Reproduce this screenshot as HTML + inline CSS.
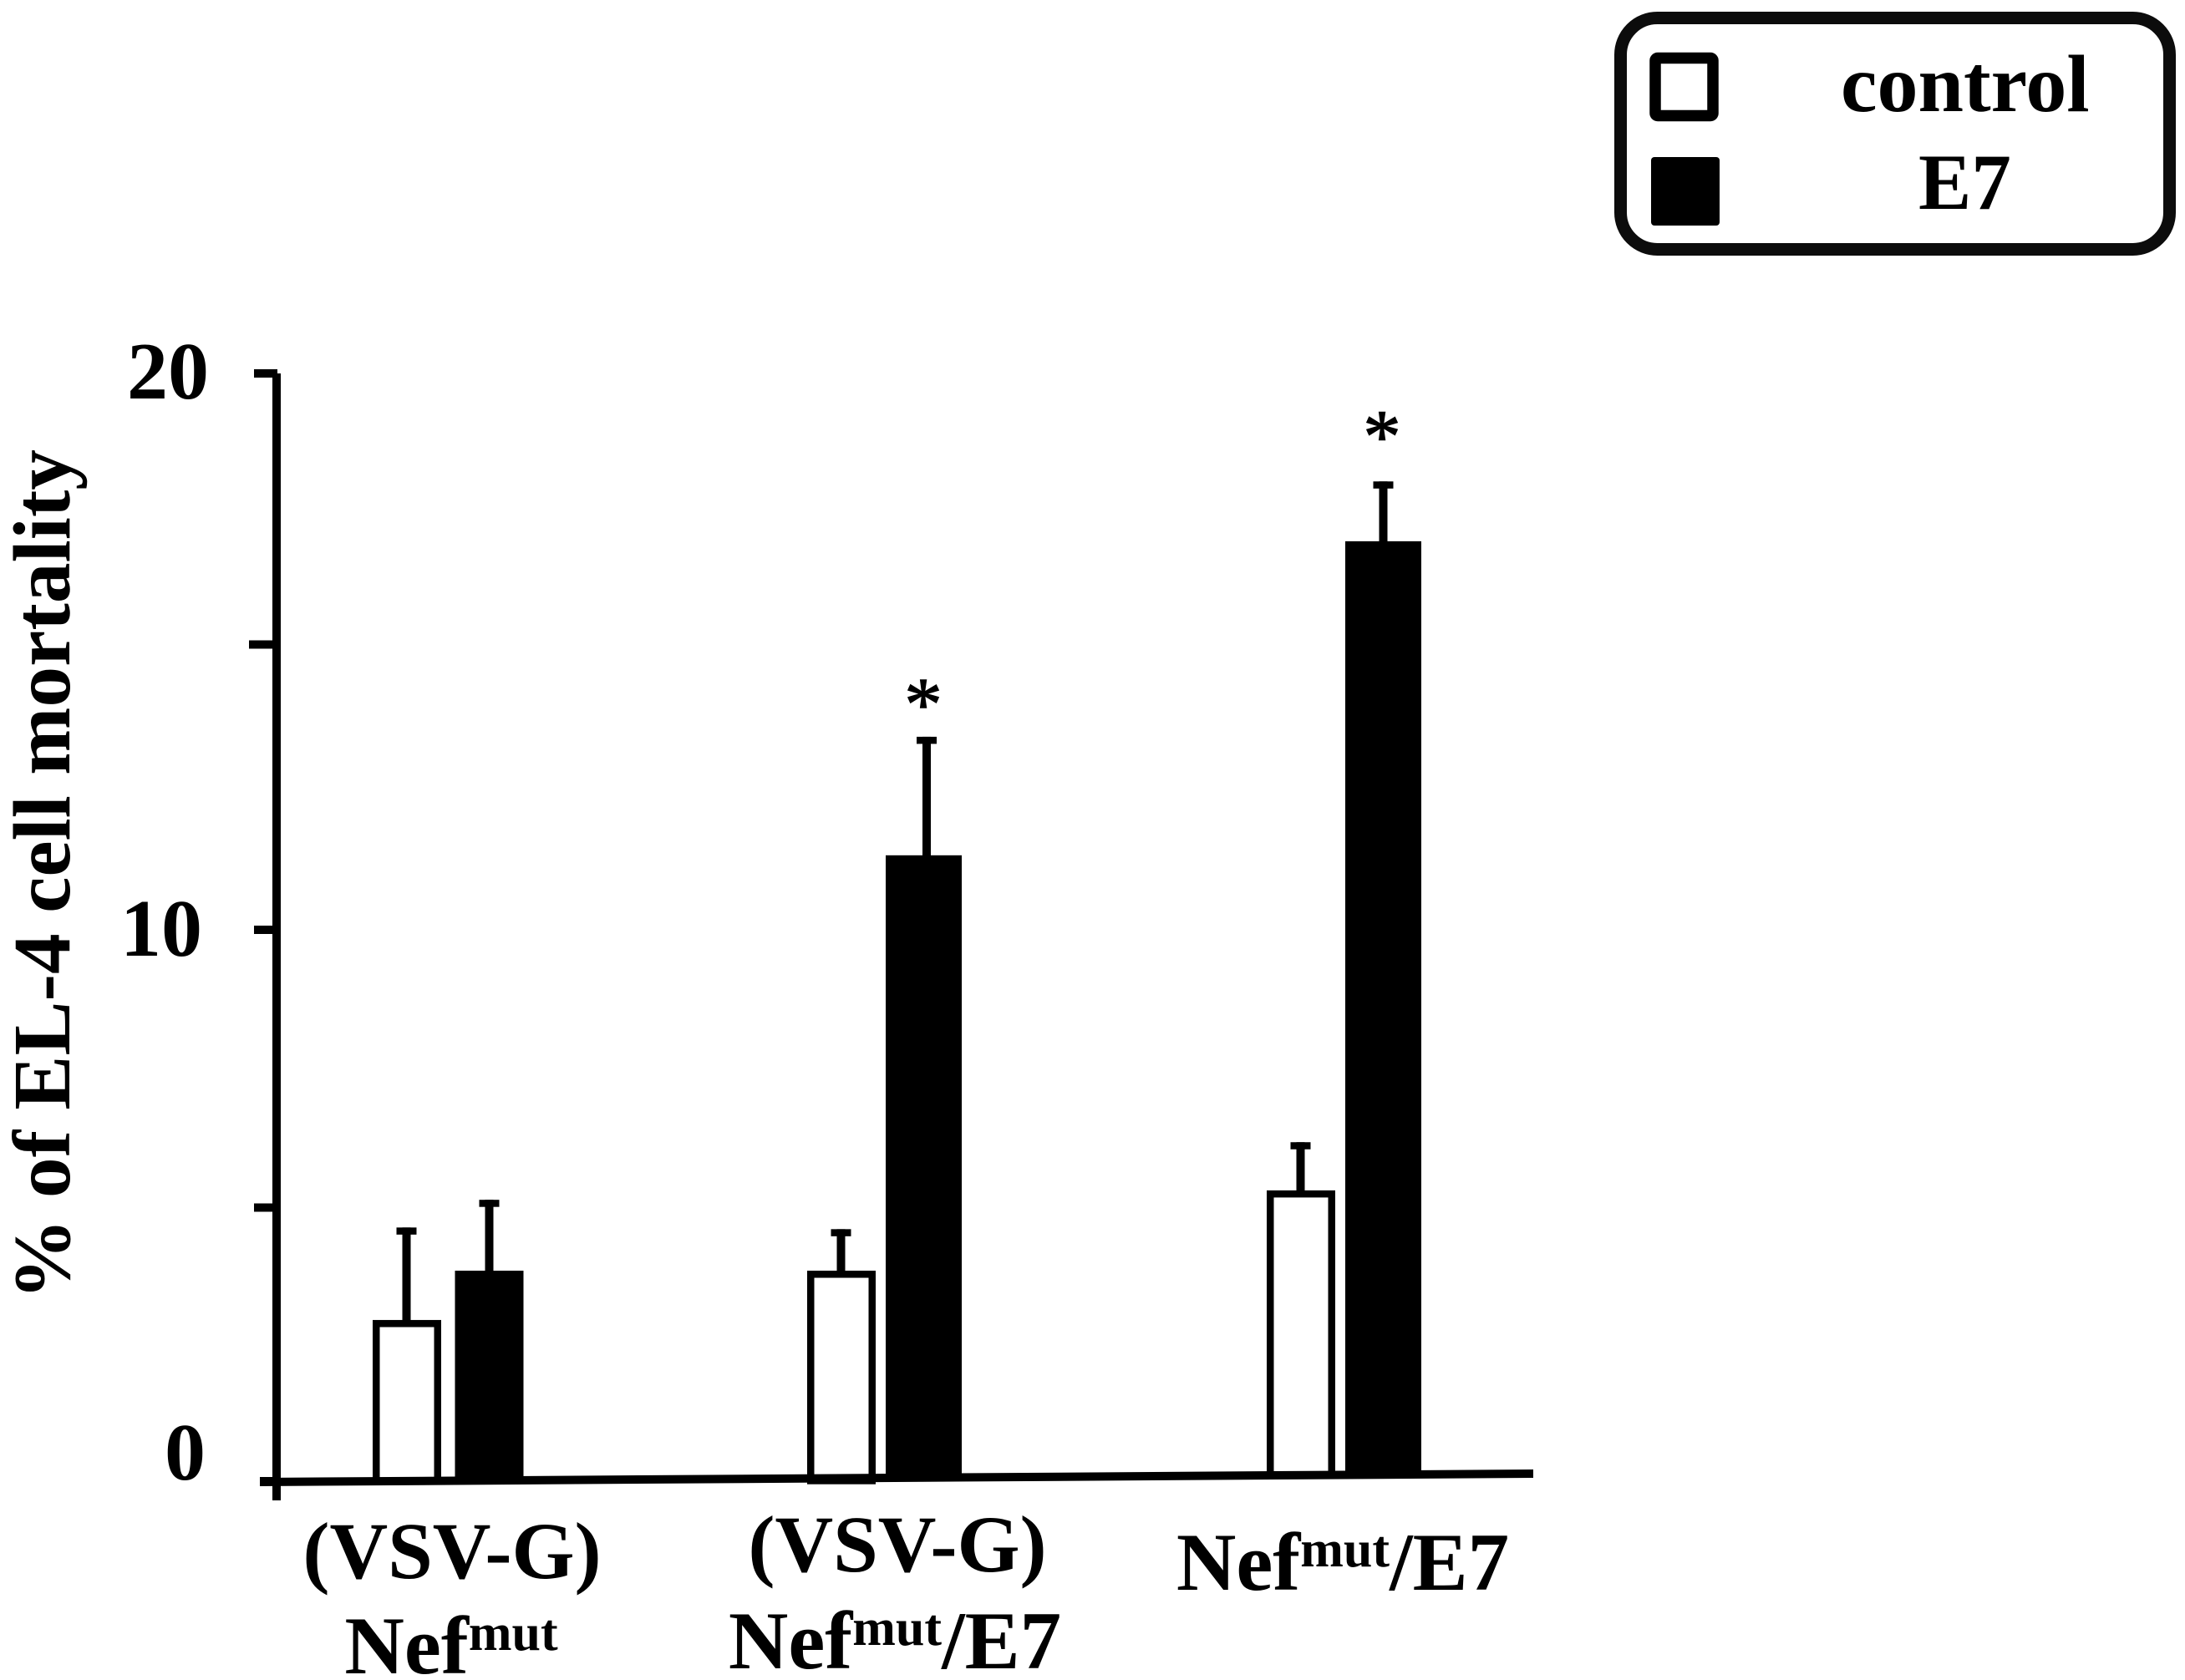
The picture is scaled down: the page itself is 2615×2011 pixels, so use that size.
<!DOCTYPE html>
<html lang="en">
<head>
<meta charset="utf-8">
<title>EL-4 cell mortality</title>
<style>
html,body{margin:0;padding:0;background:#fff;}
svg{display:block;}
text{font-family:"Liberation Serif","Times New Roman",serif;font-weight:bold;fill:#000;}
</style>
</head>
<body>
<svg id="chart" xmlns="http://www.w3.org/2000/svg" width="2615" height="2011" viewBox="0 0 2615 2011">
  <rect x="0" y="0" width="2615" height="2011" fill="#fff"/>
  <g>
    <rect x="1939.5" y="21.5" width="657" height="277" rx="44" ry="44" fill="#fff" stroke="#0c0c0c" stroke-width="15"/>
    <rect x="1981" y="69.5" width="69" height="69" rx="3" fill="#fff" stroke="#000" stroke-width="13.5"/>
    <text x="2203" y="133" font-size="98">control</text>
    <rect x="1976" y="188" width="82" height="82" rx="4" fill="#000"/>
    <text x="2296" y="250" font-size="95">E7</text>
  </g>
  <text transform="translate(83,1047) rotate(-90)" text-anchor="middle" font-size="97.5">% of EL-4 cell mortality</text>
  <g id="marks"></g>
</svg>
<script>
const categoryLine1 = ["(VSV-G)", "(VSV-G)", ""];
const categoryBase = ["Nef", "Nef", "Nef"];
const categorySup = ["mut", "mut", "mut"];
const categorySuffix = ["", "/E7", "/E7"];
const controlValues = [2.91, 3.80, 5.25];
const e7Values = [3.80, 11.30, 16.97];
const controlErrors = [1.67, 0.75, 0.87];
const e7Errors = [1.28, 2.14, 1.08];
const significant = [false, true, true];
const tickValues = [0, 5, 10, 15, 20];
const tickLabels = ["0", "", "10", "", "20"];

const NS = "http://www.w3.org/2000/svg";
const marks = document.getElementById("marks");

function yScale(v) { return 1773 - 66.3 * v; }
function groupCenter(i) { return i === 0 ? 536 : i === 1 ? 1056 : 1606; }
function baselineY(x) { return 1774 - (x - 311) * 10 / 1524; }
function tickNudge(v) { return v === 5 ? 4 : v === 10 ? 3 : v === 15 ? -7 : 0; }
function tickLeft(v) { return v === 15 ? 298 : v === 0 ? 311 : 304; }

function make(tag, attrs) {
  const node = document.createElementNS(NS, tag);
  for (const k in attrs) node.setAttribute(k, attrs[k]);
  marks.appendChild(node);
  return node;
}

/* axes */
const yAxisLine = make("rect", { x: 326, y: 447, width: 10, height: 1349, fill: "#000" });



tickValues.forEach(function (v, i) {
  const y = yScale(v) + tickNudge(v);
  const tick = make("rect", { x: tickLeft(v), y: y - 5, width: 332 - tickLeft(v), height: 10, fill: "#000" });
  
  
  if (tickLabels[i]) {
    const right = v === 20 ? 250 : v === 10 ? 242 : 246;
    const base = v === 20 ? 477 : v === 10 ? 1144 : 1771;
    const lab = make("text", { x: right, y: base, "text-anchor": "end", "font-size": 98 });
    lab.textContent = tickLabels[i];
    
    
  }
});

/* bars */
function drawError(cx, value, err) {
  const top = yScale(value + err);
  const stem = make("rect", { x: cx - 5, y: top, width: 10, height: yScale(value) - top + 2, fill: "#000" });
  
  
  const cap = make("rect", { x: cx - 12, y: top, width: 24, height: 8.5, fill: "#000" });
  
  
}

categoryBase.forEach(function (_, i) {
  const center = groupCenter(i);

  /* control (hollow) */
  const cLeft = center - 49 - 41;
  const cTop = yScale(controlValues[i]);
  const cBottom = baselineY(cLeft + 41) + (i === 1 ? 3 : 0);
  drawError(center - 49.5, controlValues[i], controlErrors[i]);
  const cBar = make("rect", {
    x: cLeft + 4.25, y: cTop + 4.25, width: 82 - 8.5,
    height: cBottom - cTop - 4.25, fill: "#fff", stroke: "#000", "stroke-width": 8.5
  });
  
  

  /* E7 (solid) */
  const w = i === 0 ? 82 : 91;
  const eLeft = center + 49.5 - w / 2;
  const eTop = yScale(e7Values[i]);
  const eBottom = baselineY(eLeft + w / 2) + 3;
  drawError(center + 49.5 + (i === 1 ? 3.5 : 0), e7Values[i], e7Errors[i]);
  const eBar = make("rect", { x: eLeft, y: eTop, width: w, height: eBottom - eTop, fill: "#000" });
  
  

  /* significance marker */
  if (significant[i]) {
    const star = make("text", {
      x: i === 1 ? 1105 : 1654,
      y: yScale(e7Values[i] + e7Errors[i]) - (i === 1 ? 9 : 24),
      "text-anchor": "middle", "font-size": 90,
      stroke: "#000", "stroke-width": 1.4
    });
    star.textContent = "*";
    star.setAttribute("style", "font-weight:normal");
    
    
  }
});

/* x axis line (slightly sloped as in the source figure) */
const xAxisLine = make("polygon", {
  points: "311,1769 1835,1759 1835,1769 311,1779",
  fill: "#000"
});



/* category labels */
function labelLayout(i) {
  return [
    { c1: 541, b1: 1889, c2: 540, b2: 2003 },
    { c1: 1074, b1: 1881, c2: 1071, b2: 1997 },
    { c1: 1607, b1: 0, c2: 1607, b2: 1903 }
  ][i];
}
categoryBase.forEach(function (base, i) {
  const pos = labelLayout(i);
  if (categoryLine1[i]) {
    const l1 = make("text", { x: pos.c1, y: pos.b1, "text-anchor": "middle", "font-size": 96.5 });
    l1.textContent = categoryLine1[i];
    
    
  }
  const l2 = make("text", { x: pos.c2, y: pos.b2, "text-anchor": "middle", "font-size": 99 });
  
  
  const t1 = document.createElementNS(NS, "tspan");
  t1.textContent = base;
  l2.appendChild(t1);
  const t2 = document.createElementNS(NS, "tspan");
  t2.setAttribute("font-size", "62");
  t2.setAttribute("dy", "-28");
  t2.textContent = categorySup[i];
  l2.appendChild(t2);
  if (categorySuffix[i]) {
    const t3 = document.createElementNS(NS, "tspan");
    t3.setAttribute("dy", "28");
    t3.textContent = categorySuffix[i];
    l2.appendChild(t3);
  }
});
</script>
</body>
</html>
